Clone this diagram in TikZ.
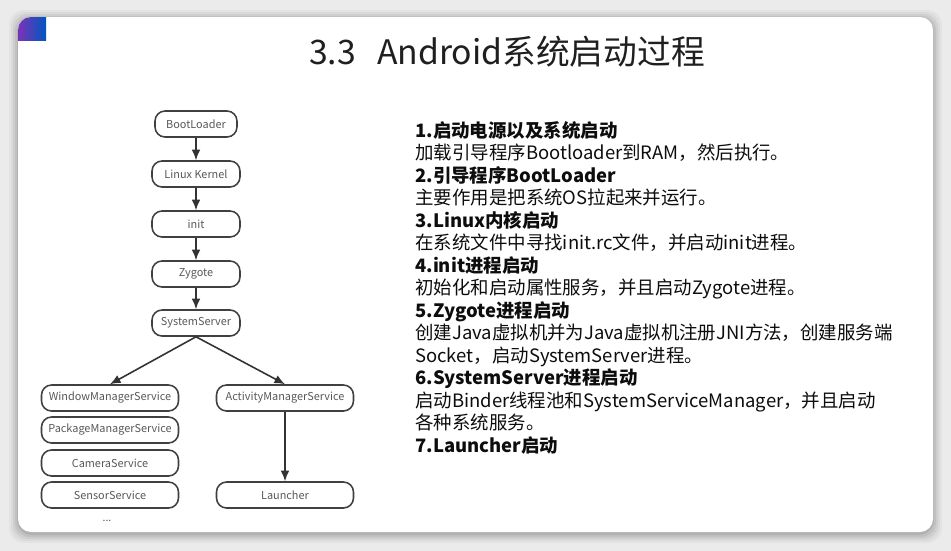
\documentclass[tikz,border=0pt]{standalone}
\usepackage{fontspec}
\newfontfamily\cjk{Noto Sans CJK SC}
\usetikzlibrary{arrows.meta}

\begin{document}
\begin{tikzpicture}[
  x=0.02cm, y=-0.02cm,
  box/.style={draw=black!75, line width=0.9pt, rounded corners=0.2cm,
    minimum height=0.52cm, inner sep=1pt, text=black!65,
    font=\cjk\fontsize{6.2}{8}\selectfont},
  stage/.style={box, minimum width=1.76cm},
  svc/.style={box, minimum width=2.74cm},
  arr/.style={-{Latex[length=6pt,width=5pt]}, line width=0.9pt, draw=black!80}
]
\useasboundingbox (0,0) rectangle (951,551);
% slide and its shadow
\fill[black!8] (0,0) rectangle (951,551);
\foreach \s/\o in {9/0.03, 7/0.04, 5/0.05, 3/0.06, 1/0.08}
  \fill[black, opacity=\o, rounded corners=0.3cm] (18-\s,17-\s+2) rectangle (933+\s,532+\s+2);
\fill[white, rounded corners=0.26cm] (18,17) rectangle (933,532);
\begin{scope}
  \clip[rounded corners=0.26cm] (18,17) rectangle (933,532);
  \shade[left color=violet!70!blue!80, right color=blue!55!cyan!75!black] (18,17) rectangle (46,40);
\end{scope}

\node[font=\cjk\fontsize{19.2}{23}\selectfont, text=black!88] (title) at (507,52)
  {3.3\hspace{0.42cm}Android系统启动过程};

% boot chain
\node[box, minimum width=1.64cm] (boot) at (196,124) {BootLoader};
\node[stage] (kernel) at (196,174) {Linux Kernel};
\node[stage] (init) at (196,224) {init};
\node[stage] (zygote) at (196,274) {Zygote};
\node[stage] (sysserver) at (196,323) {SystemServer};

\node[svc] (wms) at (110,398) {WindowManagerService};
\node[svc] (pms) at (110,430) {PackageManagerService};
\node[svc] (cam) at (110,463) {CameraService};
\node[svc] (sensor) at (110,495) {SensorService};
\node[text=black!65, font=\cjk\fontsize{6}{7}\selectfont] (more) at (107,521) {...};
\node[svc] (ams) at (285,398) {ActivityManagerService};
\node[svc] (launcher) at (285,495) {Launcher};

\draw[arr] (boot) -- (kernel);
\draw[arr] (kernel) -- (init);
\draw[arr] (init) -- (zygote);
\draw[arr] (zygote) -- (sysserver);
\draw[arr] (sysserver.south) -- (wms.north);
\draw[arr] (sysserver.south) -- (ams.north);
\draw[arr] (ams) -- (launcher);

% steps
\node[anchor=north west, align=left, inner sep=0pt, text=black!95,
  font=\cjk\fontsize{10.5}{12.8}\selectfont] (steps) at (415,121) {%
  \textbf{1.启动电源以及系统启动}\\
  加载引导程序Bootloader到RAM，然后执行。\\
  \textbf{2.引导程序BootLoader}\\
  主要作用是把系统OS拉起来并运行。\\
  \textbf{3.Linux内核启动}\\
  在系统文件中寻找init.rc文件，并启动init进程。\\
  \textbf{4.init进程启动}\\
  初始化和启动属性服务，并且启动Zygote进程。\\
  \textbf{5.Zygote进程启动}\\
  创建Java虚拟机并为Java虚拟机注册JNI方法，创建服务端\\
  Socket，启动SystemServer进程。\\
  \textbf{6.SystemServer进程启动}\\
  启动Binder线程池和SystemServiceManager，并且启动\\
  各种系统服务。\\
  \textbf{7.Launcher启动}};
\end{tikzpicture}
\end{document}
